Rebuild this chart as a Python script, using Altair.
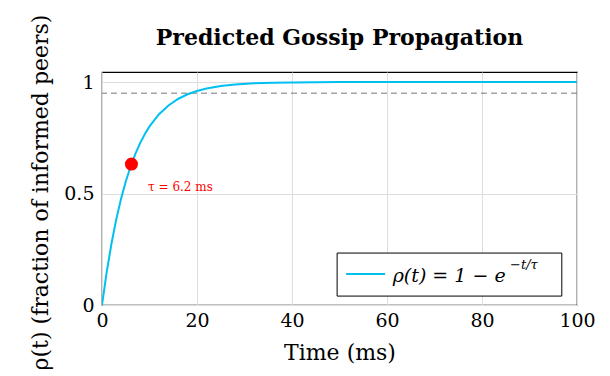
import altair as alt
import pandas as pd

# curve
t_vals = [0, 1, 2, 3, 4, 5, 6, 7, 8, 9, 10, 12, 14, 16, 18, 20, 22, 25, 28, 32, 36, 40, 50, 60, 70, 80, 90, 100]
rho_vals = [0.0, 0.149, 0.276, 0.384, 0.475, 0.554, 0.620, 0.677, 0.725, 0.766, 0.801, 0.856, 0.895, 0.924,
            0.945, 0.960, 0.971, 0.982, 0.989, 0.994, 0.997, 0.998, 1.0, 1.0, 1.0, 1.0, 1.0, 1.0]
tau_t = [6.2]
tau_rho = [0.632]
threshold = [0.95]
annot_text = ["τ = 6.2 ms"]
annot_t = [9.7]
annot_rho = [0.53]

# legend box (drawn in data units)
legend_box_t = [49.5, 96.8]
legend_box_rho = [0.040, 0.233]
legend_sym_t = [51.4, 59.6]
legend_sym_rho = [0.139]
legend_label = ["ρ(t) = 1 − e"]
legend_label_t = [61.2]
legend_label_rho = [0.128]
legend_sup = ["−t/τ"]
legend_sup_t = [85.9]
legend_sup_rho = [0.180]

SERIF = "DejaVu Serif"
CYAN = "#00c0f0"

curve = pd.DataFrame({"t": t_vals, "rho": rho_vals})
pt = pd.DataFrame({"t": tau_t, "rho": tau_rho})
thr = pd.DataFrame({"y": threshold})
ann = pd.DataFrame({"t": annot_t, "rho": annot_rho, "txt": annot_text})
box = pd.DataFrame({"t": [legend_box_t[0]], "t2": [legend_box_t[1]],
                    "r": [legend_box_rho[0]], "r2": [legend_box_rho[1]]})
sym = pd.DataFrame({"t": [legend_sym_t[0]], "t2": [legend_sym_t[1]], "r": legend_sym_rho})
lab = pd.DataFrame({"t": legend_label_t, "rho": legend_label_rho, "txt": legend_label})
sup = pd.DataFrame({"t": legend_sup_t, "rho": legend_sup_rho, "txt": legend_sup})

xs = alt.Scale(domain=[0, 100], nice=False)
ys = alt.Scale(domain=[0, 1.045], nice=False)

xax = alt.Axis(values=[0, 20, 40, 60, 80, 100], title="Time (ms)", ticks=False, labelPadding=6,
               titlePadding=12, gridColor="#dedede", domain=False, labelFlush=False)
yax = alt.Axis(values=[0, 0.5, 1], title="ρ(t) (fraction of informed peers)", ticks=False,
               labelPadding=8, titlePadding=11, gridColor="#dedede", domain=False, format="~g",
               titleY=120, labelFlush=False)

line = alt.Chart(curve).mark_line(strokeWidth=2, clip=True, color=CYAN).encode(
    x=alt.X("t:Q", scale=xs, axis=xax),
    y=alt.Y("rho:Q", scale=ys, axis=yax),
)

dash = alt.Chart(thr).mark_rule(color="#777777", strokeDash=[6, 4], strokeWidth=1).encode(
    y=alt.Y("y:Q", scale=ys)
)

dot = alt.Chart(pt).mark_point(filled=True, color="red", size=170, opacity=1).encode(
    x=alt.X("t:Q", scale=xs), y=alt.Y("rho:Q", scale=ys)
)

annot = alt.Chart(ann).mark_text(color="red", font=SERIF, fontSize=12, align="left",
                                 baseline="middle").encode(
    x=alt.X("t:Q", scale=xs), y=alt.Y("rho:Q", scale=ys), text="txt:N"
)

lbox = alt.Chart(box).mark_rect(fill="white", stroke="black", strokeWidth=1).encode(
    x=alt.X("t:Q", scale=xs), x2="t2:Q", y=alt.Y("r:Q", scale=ys), y2="r2:Q"
)
lsym = alt.Chart(sym).mark_rule(color=CYAN, strokeWidth=2).encode(
    x=alt.X("t:Q", scale=xs), x2="t2:Q", y=alt.Y("r:Q", scale=ys)
)
llab = alt.Chart(lab).mark_text(color="black", font=SERIF, fontSize=19, align="left",
                                baseline="middle", fontStyle="italic").encode(
    x=alt.X("t:Q", scale=xs), y=alt.Y("rho:Q", scale=ys), text="txt:N"
)
lsup = alt.Chart(sup).mark_text(color="black", font=SERIF, fontSize=13, align="left",
                                baseline="middle", fontStyle="italic").encode(
    x=alt.X("t:Q", scale=xs), y=alt.Y("rho:Q", scale=ys), text="txt:N"
)

chart = alt.layer(dash, line, dot, annot, lbox, lsym, llab, lsup).properties(
    width=475, height=233,
    title=alt.TitleParams("Predicted Gossip Propagation", font=SERIF, fontSize=22,
                          fontWeight="bold", offset=0, dy=36, anchor="middle", frame="group"),
    autosize=alt.AutoSizeParams(type="none"),
    padding={"left": 94, "top": 64, "right": 25, "bottom": 64},
).configure_view(stroke="black", strokeWidth=1.2).configure_axis(
    labelFont=SERIF, titleFont=SERIF, labelFontSize=19, titleFontSize=22,
    labelColor="black", titleColor="black", titleFontWeight="normal"
)

chart.save("out.html", embed_options={"renderer": "svg", "actions": False})
